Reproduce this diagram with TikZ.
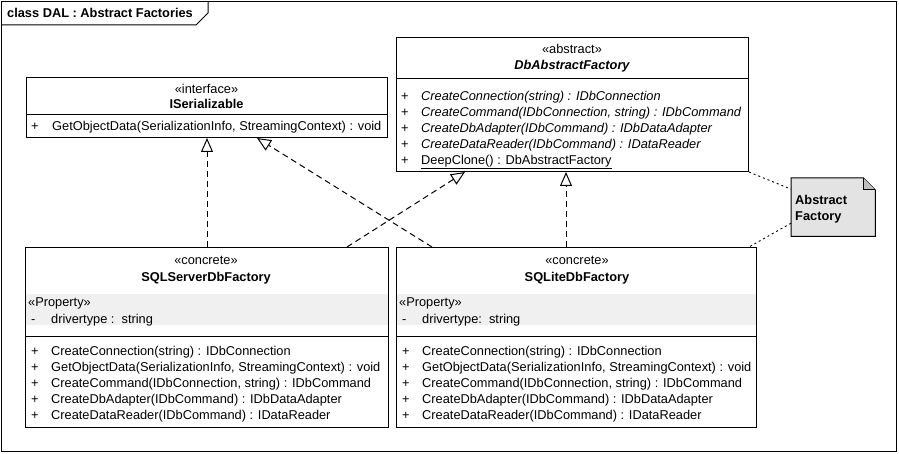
\documentclass[tikz,border=0pt]{standalone}
\usepackage{fontspec}
\setmainfont{Liberation Sans}
\usetikzlibrary{arrows.meta, calc}
\def\umlfont{\fontsize{12.8}{16}\selectfont}
\def\frame{(1.5,1.5) rectangle (896.5,451.5)}
\def\titletab{(1.5,25) -- (196,25) -- (208,13) -- (208,1.5)}
\tikzset{
  umlbox/.style={draw, line width=1pt, inner sep=0pt, anchor=north west},
  stereo/.style={anchor=base, inner sep=0pt, font=\umlfont},
  member/.style={anchor=base west, inner sep=0pt, font=\umlfont},
  propband/.style={fill=gray!12},
  realize/.style={line width=1pt, dash pattern=on 6pt off 4pt,
    -{Triangle[open, length=14pt, width=12pt, fill=white]}},
  noteline/.style={line width=0.9pt, dash pattern=on 2pt off 3pt},
}

\begin{document}
\begin{tikzpicture}[x=1pt, y=-1pt]
	\useasboundingbox (0,0) rectangle (899,454);
	\draw[line width=1.2pt] \frame;
	\draw[line width=1pt] \titletab;
	\node[member, font=\umlfont\bfseries] (title) at (7,17.5) {class DAL : Abstract Factories};

	% property compartments
	\fill[propband] (25.5,294) rectangle (387.5,325);
	\fill[propband] (396.5,294) rectangle (755.5,325);

	% class boxes
	\node[umlbox, minimum width=361pt, minimum height=60pt] (ser) at (26,77) {};
	\node[umlbox, minimum width=352pt, minimum height=134pt] (abs) at (396,37) {};
	\node[umlbox, minimum width=363pt, minimum height=180pt] (srv) at (25,247) {};
	\node[umlbox, minimum width=360pt, minimum height=180pt] (lite) at (396,247) {};
	\draw[line width=1pt] (26,115) -- (387,115);
	\draw[line width=1pt] (396,79) -- (748,79);
	\draw[line width=1pt] (25,336) -- (388,336);
	\draw[line width=1pt] (396,336) -- (756,336);

	% ISerializable
	\node[stereo] (ser-st) at (206.5,93.5) {«interface»};
	\node[stereo, font=\umlfont\bfseries] (ser-nm) at (206.5,109) {ISerializable};
	\node[member] (ser-v1) at (31,130.5) {+};
	\node[member] (ser-op1) at (52,130.5) {GetObjectData(SerializationInfo, StreamingContext) : void};

	% DbAbstractFactory
	\node[stereo] (abs-st) at (572,54) {«abstract»};
	\node[stereo, font=\umlfont\bfseries\itshape] (abs-nm) at (572,70) {DbAbstractFactory};
	\foreach \op [count=\i] in {{\itshape CreateConnection(string) : IDbConnection},
		{\itshape CreateCommand(IDbConnection, string) : IDbCommand},
		{\itshape CreateDbAdapter(IDbCommand) : IDbDataAdapter},
		{\itshape CreateDataReader(IDbCommand) : IDataReader},
		{\underline{DeepClone() : DbAbstractFactory}}} {
		\node[member] (abs-v\i) at (401,{84.5+16*\i}) {+};
		\node[member] (abs-op\i) at (421,{84.5+16*\i}) {\op};
	}

	% concrete factories
	\foreach \cls/\lft/\nm/\drv in {srv/25/SQLServerDbFactory/{drivertype :\ \ string},
		lite/396/SQLiteDbFactory/{drivertype:\ \ string}} {
		\node[stereo] (\cls-st) at ({\lft+181},265) {«concrete»};
		\node[stereo, font=\umlfont\bfseries] (\cls-nm) at ({\lft+181},281) {\nm};
		\node[member] (\cls-pr) at ({\lft+3},306.5) {«Property»};
		\node[member] (\cls-d) at ({\lft+6},323) {-};
		\node[member] (\cls-at) at ({\lft+26},323) {\drv};
		\foreach \op [count=\i] in {{CreateConnection(string) : IDbConnection},
			{GetObjectData(SerializationInfo, StreamingContext) : void},
			{CreateCommand(IDbConnection, string) : IDbCommand},
			{CreateDbAdapter(IDbCommand) : IDbDataAdapter},
			{CreateDataReader(IDbCommand) : IDataReader}} {
			\node[member] (\cls-v\i) at ({\lft+6},{339.5+16*\i}) {+};
			\node[member] (\cls-op\i) at ({\lft+26},{339.5+16*\i}) {\op};
		}
	}

	% note
	\node[inner sep=0pt, minimum width=84pt, minimum height=58pt, anchor=north west] (note) at (791,178) {};
	\filldraw[fill=gray!22, line width=1pt] (note.north west) -- ($(note.north east)+(-12,0)$)
		-- ($(note.north east)+(0,12)$) -- (note.south east) -- (note.south west) -- cycle;
	\filldraw[fill=gray!50, line width=1pt] ($(note.north east)+(-12,0)$) -- ($(note.north east)+(-12,12)$)
		-- ($(note.north east)+(0,12)$);
	\node[member, font=\umlfont\bfseries] (note-l1) at (795,204.5) {Abstract};
	\node[member, font=\umlfont\bfseries] (note-l2) at (795,220.5) {Factory};

	% realizations
	\draw[realize] (srv.north -| ser.south) -- (ser.south);
	\draw[realize] ($(lite.north west)+(36,0)$) -- ($(ser.south west)+(231,0)$);
	\draw[realize] ($(srv.north west)+(322,0)$) -- ($(abs.south west)+(69,0)$);
	\draw[realize] ($(lite.north west)+(170,0)$) -- ($(abs.south west)+(170,0)$);
	\draw[noteline] (abs.south east) -- ($(note.west)+(0,-18)$);
	\draw[noteline] ($(note.west)+(0,16)$) -- ($(lite.north east)+(-8,0)$);
\end{tikzpicture}
\end{document}
